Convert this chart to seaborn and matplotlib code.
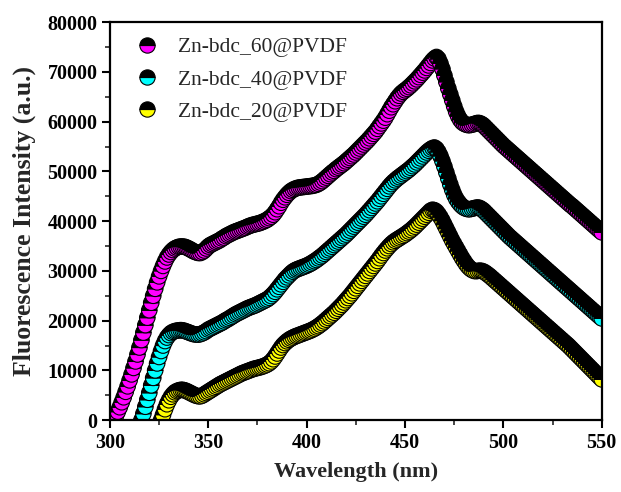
import numpy as np
import matplotlib
matplotlib.use('Agg')
import matplotlib.pyplot as plt
import seaborn as sns
import pandas as pd
from matplotlib.ticker import MultipleLocator
from matplotlib.markers import MarkerStyle
from matplotlib.lines import Line2D

labels = ['Zn-bdc_60@PVDF', 'Zn-bdc_40@PVDF', 'Zn-bdc_20@PVDF']
colors = ['#ff00ff', '#00ffff', '#ffff00']

# wavelength start (nm) of each series, 1 nm step up to 550 nm
start_60 = 302
start_40 = 316
start_20 = 326

vals_60 = [
    0, 800, 1700, 2600, 3600, 4600, 5700, 6800, 8000,
    9200, 10500, 11800, 13200, 14600, 16100, 17600, 19100, 20600, 22100,
    23600, 25000, 26400, 27700, 28900, 30000, 31000, 31900, 32700, 33300,
    33800, 34200, 34500, 34700, 34850, 34900, 34900, 34850, 34700, 34500,
    34300, 34050, 33850, 33700, 33600, 33600, 33800, 34100, 34500, 34900,
    35200, 35400, 35600, 35800, 36000, 36200, 36500, 36700, 37000, 37200,
    37400, 37600, 37800, 37950, 38100, 38250, 38400, 38550, 38700, 38900,
    39050, 39200, 39300, 39400, 39500, 39600, 39750, 39900, 40100, 40300,
    40600, 40900, 41300, 41800, 42400, 43000, 43700, 44300, 44800, 45300,
    45700, 46050, 46300, 46500, 46650, 46750, 46800, 46850, 46900, 46950,
    47000, 47050, 47100, 47200, 47300, 47500, 47750, 48050, 48400, 48750,
    49100, 49450, 49800, 50100, 50450, 50750, 51050, 51350, 51650, 52000,
    52350, 52700, 53050, 53400, 53800, 54200, 54600, 55000, 55400, 55800,
    56200, 56650, 57100, 57550, 58000, 58550, 59100, 59650, 60200, 60800,
    61500, 62200, 62900, 63500, 64100, 64700, 65200, 65650, 66000, 66300,
    66600, 66950, 67300, 67700, 68100, 68500, 68950, 69400, 69850, 70300,
    70800, 71300, 71800, 72300, 72700, 73000, 72600, 71700, 70600, 69300,
    68000, 66700, 65500, 64300, 63100, 62000, 61100, 60400, 59900, 59600,
    59400, 59300, 59300, 59400, 59500, 59650, 59750, 59700, 59500, 59200,
    58800, 58400, 58000, 57600, 57200, 56800, 56400, 56000, 55600, 55200,
    54850, 54500, 54150, 53800, 53450, 53100, 52750, 52400, 52050, 51700,
    51350, 51000, 50650, 50300, 49950, 49600, 49250, 48900, 48550, 48200,
    47850, 47500, 47150, 46800, 46450, 46100, 45750, 45400, 45050, 44700,
    44350, 44000, 43650, 43300, 43000, 42650, 42300, 41950, 41600, 41250,
    40900, 40550, 40200, 39850, 39500, 39150, 38800, 38450, 38100, 37750,
]

vals_40 = [
    0, 1300, 2700, 4100, 5500,
    7000, 8500, 10000, 11400, 12700, 13900, 15000, 15900, 16600, 17100,
    17500, 17750, 17900, 18000, 18050, 18100, 18050, 17950, 17800, 17650,
    17500, 17350, 17250, 17200, 17200, 17300, 17450, 17650, 17900, 18200,
    18400, 18600, 18800, 19000, 19200, 19400, 19600, 19850, 20100, 20300,
    20550, 20800, 21050, 21300, 21500, 21700, 21900, 22100, 22300, 22500,
    22650, 22800, 22950, 23100, 23300, 23500, 23700, 23900, 24100, 24300,
    24600, 24950, 25350, 25800, 26300, 26800, 27300, 27800, 28300, 28700,
    29100, 29500, 29850, 30100, 30300, 30450, 30600, 30750, 30900, 31050,
    31250, 31450, 31700, 31950, 32200, 32500, 32800, 33100, 33450, 33800,
    34150, 34500, 34850, 35200, 35550, 35900, 36250, 36600, 36950, 37300,
    37700, 38100, 38500, 38900, 39300, 39700, 40100, 40500, 40900, 41300,
    41750, 42200, 42650, 43100, 43550, 44000, 44500, 45000, 45500, 46000,
    46500, 47000, 47450, 47850, 48200, 48550, 48850, 49150, 49450, 49750,
    50050, 50350, 50700, 51050, 51400, 51800, 52200, 52600, 53000, 53400,
    53800, 54150, 54450, 54700, 54800, 54500, 53900, 53100, 52100, 51000,
    49800, 48600, 47400, 46300, 45300, 44500, 43900, 43400, 43000, 42700,
    42500, 42400, 42400, 42500, 42600, 42700, 42750, 42650, 42400, 42100,
    41700, 41300, 40900, 40500, 40100, 39700, 39300, 38900, 38500, 38100,
    37700, 37300, 36900, 36550, 36200, 35850, 35500, 35150, 34800, 34450,
    34100, 33750, 33400, 33050, 32700, 32350, 32000, 31650, 31300, 30950,
    30600, 30250, 29900, 29550, 29200, 28850, 28500, 28150, 27800, 27450,
    27100, 26750, 26400, 26050, 25700, 25350, 25000, 24650, 24300, 23950,
    23600, 23250, 22900, 22550, 22200, 21850, 21500, 21150, 20800, 20450,
]

vals_20 = [
    0, 1100, 2200, 3200, 4000,
    4700, 5200, 5600, 5850, 6000, 6100, 6100, 6000, 5850, 5650,
    5450, 5250, 5050, 4900, 4800, 4800, 4950, 5200, 5450, 5700,
    5950, 6200, 6450, 6700, 6950, 7200, 7400, 7600, 7800, 8000,
    8200, 8400, 8600, 8800, 9000, 9200, 9400, 9550, 9700, 9850,
    10000, 10150, 10300, 10400, 10500, 10600, 10700, 10850, 11000, 11200,
    11450, 11800, 12250, 12800, 13400, 14000, 14600, 15100, 15500, 15850,
    16150, 16400, 16600, 16800, 16950, 17100, 17250, 17400, 17550, 17700,
    17850, 18000, 18200, 18400, 18650, 18900, 19200, 19500, 19850, 20200,
    20550, 20900, 21250, 21600, 22000, 22400, 22800, 23200, 23650, 24100,
    24550, 25000, 25500, 26000, 26500, 27000, 27500, 28000, 28500, 29000,
    29500, 30000, 30500, 31000, 31500, 32000, 32550, 33100, 33600, 34100,
    34550, 35000, 35400, 35750, 36050, 36300, 36550, 36800, 37050, 37300,
    37600, 37900, 38200, 38550, 38900, 39300, 39700, 40100, 40500, 40900,
    41300, 41700, 42100, 42300, 42200, 41900, 41400, 40800, 40100, 39300,
    38500, 37700, 36900, 36100, 35400, 34700, 34000, 33300, 32600, 32000,
    31400, 30900, 30500, 30200, 30000, 29950, 30000, 30050, 30000, 29850,
    29600, 29300, 29000, 28650, 28300, 27950, 27600, 27250, 26900, 26550,
    26200, 25850, 25500, 25150, 24800, 24450, 24100, 23750, 23400, 23050,
    22700, 22350, 22000, 21650, 21300, 20950, 20600, 20250, 19900, 19550,
    19200, 18850, 18500, 18150, 17800, 17450, 17100, 16750, 16400, 16050,
    15700, 15350, 15000, 14600, 14200, 13800, 13400, 13000, 12600, 12200,
    11800, 11400, 11000, 10600, 10200, 9800, 9400, 9000, 8600, 8200,
]

x_ticks = [300, 350, 400, 450, 500, 550]
y_ticks = [0, 10000, 20000, 30000, 40000, 50000, 60000, 70000, 80000]

sns.set_theme(style='ticks')
plt.rcParams['font.family'] = ['Liberation Serif', 'DejaVu Serif']

fig = plt.figure(figsize=(6.21, 4.92), dpi=100)
ax = fig.add_axes([0.177, 0.146, 0.792, 0.809])

series = [(labels[0], colors[0], start_60, vals_60),
          (labels[1], colors[1], start_40, vals_40),
          (labels[2], colors[2], start_20, vals_20)]

# Each point = coloured lower half + black upper half, drawn point by point
# (interleaved rows keep the drawing order of a real half-filled marker).
rows = []
for lab, col, st, v in series:
    for i, val in enumerate(v):
        wl = st + i
        rows.append({'wl': wl, 'val': val, 'fill': lab, 'part': 'bottom'})
        rows.append({'wl': wl, 'val': val, 'fill': 'black', 'part': 'top'})
df = pd.DataFrame(rows)

palette = {labels[0]: colors[0], labels[1]: colors[1], labels[2]: colors[2],
           'black': '#000000'}
markers = {'bottom': MarkerStyle('o', fillstyle='bottom'),
           'top': MarkerStyle('o', fillstyle='top')}

sns.scatterplot(data=df, x='wl', y='val', hue='fill', style='part',
                palette=palette, markers=markers, s=125, edgecolor='black',
                linewidth=0.8, ax=ax, legend=False)

ax.set_xlim(300, 550)
ax.set_ylim(0, 80000)
ax.set_xticks(x_ticks)
ax.set_yticks(y_ticks)
ax.xaxis.set_minor_locator(MultipleLocator(25))
ax.yaxis.set_minor_locator(MultipleLocator(5000))
ax.tick_params(which='major', direction='out', length=6, width=1.5,
               labelsize=14.5, pad=3, colors='black')
ax.tick_params(which='minor', direction='out', length=3.5, width=1.2)
ax.tick_params(top=False, right=False, which='both')
for lbl in ax.get_xticklabels() + ax.get_yticklabels():
    lbl.set_fontweight('bold')
for sp in ax.spines.values():
    sp.set_linewidth(1.6)
    sp.set_color('black')
    sp.set_visible(True)

ax.set_xlabel('Wavelength (nm)', fontsize=16, fontweight='bold', labelpad=7)
ax.set_ylabel('Fluorescence Intensity (a.u.)', fontsize=18.5, fontweight='bold', labelpad=8)

handles = [Line2D([], [], linestyle='none', marker='o', fillstyle='bottom',
                  markerfacecolor=c, markerfacecoloralt='black',
                  markeredgecolor='black', markeredgewidth=0.8, markersize=11)
           for c in colors]
ax.legend(handles, labels, loc='upper left', bbox_to_anchor=(0.054, 0.962),
          frameon=False, fontsize=15.5, handlelength=1.0, handletextpad=0.95,
          labelspacing=0.57, borderpad=0, borderaxespad=0)

fig.savefig('out.png', dpi=100)
